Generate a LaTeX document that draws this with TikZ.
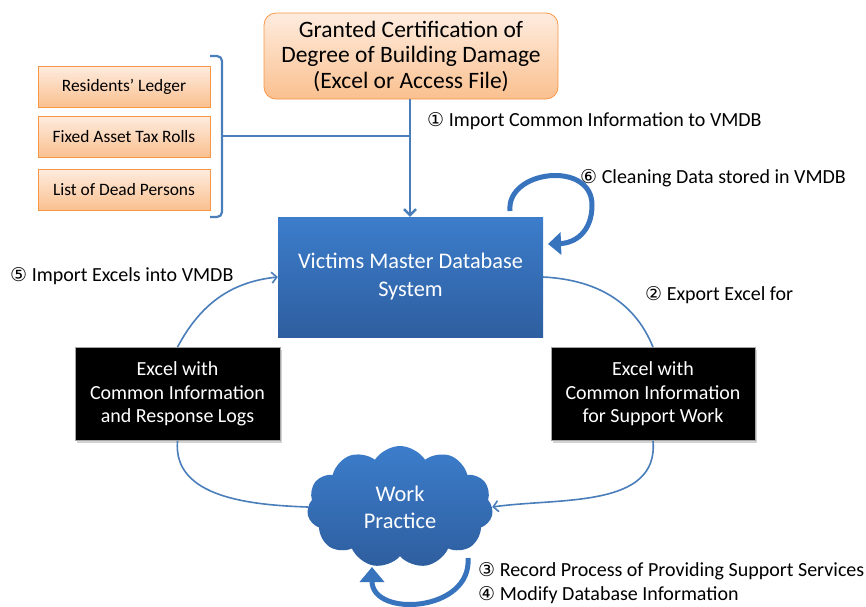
\documentclass[tikz,border=0pt]{standalone}
\usepackage{fontspec}
\setmainfont{Carlito}
\newfontfamily\circfont{DejaVu Sans}
\usetikzlibrary{arrows.meta,shapes.symbols,shadows}
\definecolor{orangeB}{HTML}{F79646}
\definecolor{orangeT}{HTML}{FEECDF}
\definecolor{orangeM}{HTML}{FAC08F}
\definecolor{blueT}{HTML}{3C7DCB}
\definecolor{blueB}{HTML}{2E5E9F}
\definecolor{lineblue}{HTML}{4A7EBB}
\definecolor{loopblue}{HTML}{3873BE}
\newcommand{\cn}[1]{{\circfont\fontsize{19}{19}\selectfont #1}}
\tikzset{
  orangebox/.style={draw=orangeB, line width=0.8pt, top color=orangeT, bottom color=orangeM, align=center, inner sep=0pt},
  bluebox/.style={top color=blueT, bottom color=blueB, text=white, align=center, inner sep=0pt},
  blackbox/.style={fill=black, draw=gray!70, line width=0.8pt, text=white, align=center, inner sep=0pt,
     drop shadow={shadow xshift=2pt, shadow yshift=-2pt, opacity=0.35}},
  thinarrow/.style={draw=lineblue, line width=1.6pt},
  thickloop/.style={draw=loopblue, line width=5pt},
  lbl/.style={anchor=west, inner sep=0pt, font=\fontsize{20}{22}\selectfont},
}
\begin{document}
\begin{tikzpicture}[x=1pt,y=-1pt]
\useasboundingbox (0,0) rectangle (866,606);

% top orange box
\node[orangebox, rounded corners=12pt, minimum width=294, minimum height=86,
  font=\fontsize{23.5}{25.5}\selectfont] (cert) at (411,56)
  {Granted Certification of\\Degree of Building Damage\\(Excel or Access File)};

% left boxes
\node[orangebox, minimum width=172, minimum height=41, font=\fontsize{17.4}{18}\selectfont] (res) at (124,86.5) {Residents’ Ledger};
\node[orangebox, minimum width=172, minimum height=41, font=\fontsize{17.4}{18}\selectfont] (tax) at (124,136.5) {Fixed Asset Tax Rolls};
\node[orangebox, minimum width=172, minimum height=41, font=\fontsize{17.4}{18}\selectfont] (dead) at (124,189.5) {List of Dead Persons};

% bracket
\draw[lineblue, line width=2.2pt, rounded corners=5pt] (210,56) -| (222,136) |- (210,217);
\coordinate (brtip) at (222,136);
\coordinate (join) at (410,136);

% VMDB
\node[bluebox, minimum width=265, minimum height=120,
  font=\fontsize{22.3}{28}\selectfont] (vm) at (410.5,277) {Victims Master Database\\System};

% black boxes
\node[blackbox, minimum width=205, minimum height=93, font=\fontsize{20}{23.5}\selectfont] (lbox) at (177.5,394)
  {Excel with\\Common Information\\and Response Logs};
\node[blackbox, minimum width=204, minimum height=93, font=\fontsize{20}{23.5}\selectfont] (rbox) at (653,394)
  {Excel with\\Common Information\\for Support Work};

% cloud
\node[cloud, cloud puffs=11, cloud puff arc=115, aspect=1.55, minimum width=186, minimum height=122,
  top color=blueT, bottom color=blueB, text=white, align=center, inner sep=0pt,
  font=\fontsize{22.4}{27}\selectfont] (work) at (400,507) {Work\\Practice};

% connectors
\draw[lineblue, line width=2.4pt] (brtip) -- (join);
\draw[lineblue, line width=2.4pt, -{Straight Barb[length=6pt,width=12pt]}] (cert.south -| join) -- (vm.north -| join);
\draw[thinarrow, -{Straight Barb[length=5pt,width=11pt]}] (lbox.north) to[out=62,in=186] (vm.west);
\draw[thinarrow] (vm.east) to[out=-3,in=112] (rbox.north);
\draw[thinarrow, -{Straight Barb[length=5pt,width=11pt]}] (rbox.south) to[out=-85,in=8] (work.east);
\draw[thinarrow] (work.west) to[out=178,in=-95] (lbox.south);

% self loops
\coordinate (vmA) at (510,211);
\coordinate (vmB) at (548,244);
\draw[thickloop, -{Triangle[length=13pt,width=22pt]}] (vmA) .. controls (506,170) and (592,160) .. (592,205)
   .. controls (592,232) and (575,243) .. (vmB);
\coordinate (wkA) at (468,558);
\coordinate (wkB) at (372,567);
\draw[thickloop, -{Triangle[length=15pt,width=24pt]}] (wkA) .. controls (472,612) and (372,618) .. (wkB);

% labels
\node[lbl] (l1) at (427,121) {\cn{①} Import Common Information to VMDB};
\node[lbl] (l6) at (580,178) {\cn{⑥} Cleaning Data stored in VMDB};
\node[lbl] (l5) at (10,276) {\cn{⑤} Import Excels into VMDB};
\node[lbl] (l2) at (645,295) {\cn{②} Export Excel for};
\node[lbl] (l3) at (478,571) {\cn{③} Record Process of Providing Support Services};
\node[lbl] (l4) at (478,595) {\cn{④} Modify Database Information};
\end{tikzpicture}
\end{document}
